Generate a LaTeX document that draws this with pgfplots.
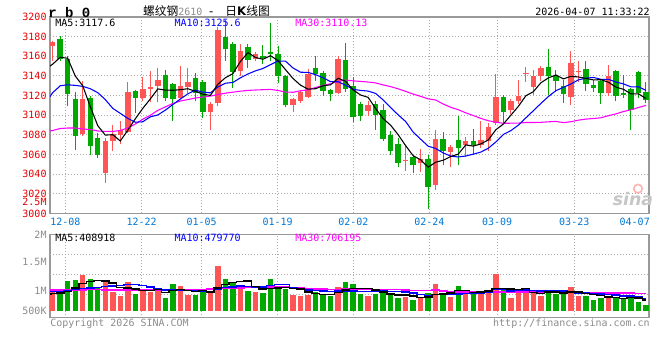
\documentclass[border=0pt]{standalone}
\usepackage{pgfplots}
\pgfplotsset{compat=1.18}
\usepackage{pgfplotstable}
\usepackage{fontspec}
\setmainfont{DejaVu Sans}
\setmonofont{DejaVu Sans Mono}
\newfontfamily\cjk{Noto Sans CJK SC}
\newfontfamily\lmono{Liberation Mono}
\definecolor{cred}{RGB}{255,85,85}
\definecolor{cgreen}{RGB}{0,168,0}
\definecolor{maB}{RGB}{0,0,255}
\definecolor{maM}{RGB}{255,0,255}
\definecolor{bord}{RGB}{153,153,153}
\definecolor{gridc}{RGB}{170,170,170}
\definecolor{ylab}{RGB}{230,0,0}
\definecolor{xlab}{RGB}{0,120,215}
\definecolor{glab}{RGB}{140,140,140}

\pgfplotstableread{
x o h l c
0 3170 3176 3155 3175
4 3081 3135 3079 3117
7 3041 3077 3031 3074
8 3074 3090 3064 3081
9 3080 3094 3071 3085
10 3083 3134 3082 3124
12 3118 3139 3115 3127
13 3127 3145 3113 3129
14 3130 3148 3113 3136
17 3118 3150 3117 3130
18 3129 3148 3123 3134
21 3103 3113 3085 3111
22 3112 3190 3109 3187
25 3145 3173 3140 3165
27 3157 3164 3155 3162
32 3110 3118 3103 3117
33 3115 3126 3112 3124
34 3119 3147 3118 3142
38 3123 3160 3122 3157
42 3104 3115 3099 3110
47 3053 3069 3043 3054
49 3051 3066 3042 3055
51 3029 3085 3024 3076
53 3063 3070 3047 3068
55 3070 3078 3057 3074
57 3070 3094 3067 3075
58 3074 3092 3064 3088
59 3092 3142 3090 3119
61 3105 3117 3101 3115
62 3114 3136 3111 3120
63 3142 3149 3134 3142.5
64 3129 3146 3121 3140
65 3140 3150 3135 3148
69 3119 3165 3110 3153
70 3144 3155 3134 3145
74 3123 3151 3120 3140
}\redc

\pgfplotstableread{
x o h l c
1 3178 3181 3155 3157
2 3157 3160 3109 3122
3 3117 3124 3065 3079
5 3118 3120 3060 3069
6 3077 3082 3056 3060
11 3125 3126 3102 3118
15 3141 3146 3114 3118
16 3132 3133 3094 3117
19 3138 3143 3114 3123
20 3134 3136 3097 3103
23 3180 3197 3155 3167
24 3173 3175 3128 3144
26 3169 3173 3148 3156
28 3160 3171 3152 3158
29 3164 3194 3155 3162
30 3162 3170 3133 3140
31 3140 3141 3108 3110
35 3148 3160 3135 3142
36 3143 3145 3120 3125
37 3126 3127 3114 3122
39 3156 3174 3124 3127
40 3130 3139 3093 3098
41 3111 3113 3094 3099
43 3111 3114 3085 3100
44 3105 3111 3074 3076
45 3080 3084 3060 3064
46 3071 3077 3047 3051
48 3058 3060 3041 3049
50 3055 3060 3005 3027
52 3076 3083 3049 3064
54 3075 3099 3049 3067
56 3074 3086 3060 3070
60 3119 3121 3092 3103
66 3149 3167 3121 3140
67 3140 3146 3124 3135
68 3130 3136 3112 3122
71 3147 3155 3125 3132
72 3131 3136 3124 3128
73 3135 3136 3111 3123
75 3145 3146 3115 3120
76 3121.5 3141 3118 3121
77 3127 3128 3085 3105
78 3144 3145 3118 3123
79 3124 3134 3112 3116
}\greenc

\pgfplotstableread{
x m5 m10 m30
-0.36 3150 3119 3083.9
0 3152 3123 3084.5
1 3159 3130 3086.5
2 3158 3131 3087
3 3140 3130.4 3087
4 3130.0 3129.4 3086
5 3108.8 3127 3085.5
6 3089.4 3123 3084
7 3079.8 3116 3083.5
8 3080.2 3107 3083.5
9 3073.8 3101.9 3084.5
10 3084.8 3096.8 3087
11 3096.4 3092.9 3091
12 3107.0 3093.4 3096
13 3116.6 3098.4 3100
14 3126.8 3100.3 3105
15 3125.6 3105.2 3108.5
16 3125.4 3110.9 3112
17 3126.0 3116.5 3114.5
18 3127.0 3121.8 3116
19 3124.4 3125.6 3117.5
20 3121.4 3123.5 3118.5
21 3120.2 3122.8 3119.5
22 3131.6 3128.8 3121
23 3138.2 3132.6 3122.5
24 3142.4 3133.4 3123.5
25 3154.8 3138.1 3124.5
26 3163.8 3142.0 3125.3
27 3158.8 3145.2 3125.7
28 3157.0 3147.6 3126
29 3160.6 3151.5 3126.3
30 3155.6 3155.2 3125.2
31 3146.4 3155.1 3123.6
32 3137.4 3148.1 3123.4
33 3130.6 3143.8 3124.9
34 3126.6 3143.6 3125.8
35 3127.0 3141.3 3128.2
36 3130.0 3138.2 3130.4
37 3131.0 3134.2 3132.0
38 3137.6 3134.1 3134.5
39 3134.6 3130.6 3135.9
40 3125.8 3126.4 3135.0
41 3120.6 3125.3 3134.4
42 3118.2 3124.6 3133.8
43 3106.8 3122.2 3132.9
44 3096.6 3115.6 3130.9
45 3089.8 3107.8 3129.1
46 3080.2 3100.4 3126.9
47 3069.0 3093.6 3124.3
48 3058.8 3082.8 3121.5
49 3054.6 3075.6 3119.2
50 3047.2 3068.5 3116.7
51 3052.2 3066.2 3115.5
52 3054.2 3061.6 3111.4
53 3058.0 3058.4 3108.1
54 3060.4 3057.5 3105.6
55 3069.8 3058.5 3102.5
56 3068.6 3060.4 3099.7
57 3070.8 3062.5 3096.8
58 3074.8 3066.4 3094.4
59 3085.2 3072.8 3093.0
60 3091.0 3080.4 3091.8
61 3100.0 3084.3 3091.9
62 3109.0 3089.9 3092.0
63 3119.8 3097.3 3092.6
64 3124.0 3104.6 3092.6
65 3133.0 3112.0 3092.8
66 3138.0 3119.0 3093.3
67 3141.0 3125.0 3093.7
68 3137.0 3128.4 3092.5
69 3139.6 3131.8 3093.4
70 3139.0 3136.0 3095.0
71 3137.4 3137.7 3096.1
72 3136.0 3138.5 3096.7
73 3136.2 3136.6 3097.4
74 3133.6 3136.6 3099.6
75 3128.6 3133.8 3101.4
76 3126.4 3131.9 3103.8
77 3121.8 3128.9 3105.5
78 3121.8 3129.0 3107.9
79 3117.0 3125.3 3110.0
}\mamain

\pgfplotstableread{
x v
0 995
4 1660
7 1349
8 884
9 698
10 1349
12 963
13 884
14 995
17 1149
18 730
21 856
22 2093
25 1088
27 884
32 730
33 698
34 730
38 1116
42 684
47 651
49 577
51 1242
53 651
55 916
57 916
58 809
59 1707
61 605
62 837
63 995
64 884
65 698
69 1088
70 698
74 684
}\redv

\pgfplotstableread{
x v
1 809
2 1395
3 1428
5 1474
6 1042
11 777
15 605
16 1242
19 730
20 884
23 1474
24 1302
26 930
28 837
29 1474
30 1149
31 1009
35 884
36 777
37 684
39 1335
40 1242
41 777
43 777
44 884
45 730
46 605
48 498
50 837
52 777
54 1149
56 763
60 963
66 963
67 777
68 777
71 684
72 498
73 605
75 577
76 530
77 730
78 391
79 265
}\greenv

\pgfplotstableread{
x v5 v10 v30
-0.36 780 885 960
0 790 890 962
1 830 900 965
2 900 930 968
3 1050 980 970
4 1257 1030 972
5 1353 1060 974
6 1400 1090 975
7 1391 1120 972
8 1282 1150 968
9 1089 1173 966
10 1064 1209 965
11 1011 1206 965
12 934 1162 966
13 934 1108 968
14 994 1042 970
15 845 955 972
16 938 975 975
17 975 955 978
18 944 939 980
19 891 942 985
20 947 896 990
21 870 904 1000
22 1059 1017 1012
23 1207 1076 1025
24 1322 1107 1040
25 1363 1155 1055
26 1377 1124 1068
27 1136 1097 1080
28 1008 1108 1090
29 1043 1182 1099
30 1055 1209 1105
31 1071 1224 1111
32 1040 1088 1089
33 1012 1010 1065
34 863 953 1034
35 810 933 1014
36 764 917 1005
37 755 897 983
38 838 925 991
39 959 911 1012
40 1031 921 1009
41 1031 897 1008
42 1031 893 999
43 963 901 996
44 873 916 992
45 770 901 996
46 736 883 975
47 729 880 958
48 674 818 950
49 612 743 945
50 634 702 944
51 761 749 957
52 786 758 913
53 817 745 885
54 931 772 880
55 947 790 875
56 851 806 869
57 879 833 870
58 911 864 869
59 1022 977 877
60 1032 989 871
61 1000 926 857
62 984 932 861
63 1021 966 871
64 857 940 876
65 804 918 870
66 875 938 876
67 863 924 879
68 820 921 868
69 861 859 860
70 861 832 841
71 805 840 838
72 749 806 832
73 715 767 826
74 634 747 820
75 610 735 814
76 579 692 812
77 625 687 815
78 582 649 811
79 499 566 801
}\mavol

\newcommand{\smallmono}{\fontsize{7.5}{8}\selectfont\ttfamily}

\begin{document}
\begin{tikzpicture}[x=1pt,y=1pt]
\useasboundingbox (0,0) rectangle (495,270);
\fill[white] (0,0) rectangle (495,270);

\pgfplotsset{
  kbase/.style={
    scale only axis, width=449.25pt,
    xmin=-0.36, xmax=79.4,
    axis line style={bord, line width=1.1pt},
    major tick length=0pt,
    xmajorgrids,
    grid style={gridc, dash pattern=on 0.75pt off 1.5pt, line width=0.75pt},
    xtick={1.68,11.85,19.84,29.96,40.03,50.15,59.17,69.45},
    yticklabel style={font=\smallmono, inner sep=0pt, xshift=-2.4pt},
    xticklabel style={font=\smallmono, text=xlab, inner sep=0pt, yshift=-3.4pt},
  },
  candle/.style 2 args={draw=none, no marks, error bars/.cd, y dir=plus, y explicit, error mark=none,
    error bar style={line width=#1, solid, draw=#2}, /pgfplots/.cd},
}

% ---------------- price panel ----------------
\begin{axis}[kbase,
  at={(37.5pt,109.875pt)}, anchor=south west, height=147.375pt,
  ymin=3000, ymax=3200,
  ytick={3000,3020,3040,3060,3080,3100,3120,3140,3160,3180,3200},
  yticklabels={3000,3020,3040,3060,3080,3100,3120,3140,3160,3180,3200},
  yticklabel style={text=ylab},
  ymajorgrids,
  xticklabels={12-08,12-22,01-05,01-19,02-02,02-24,03-09,03-23},
  extra x ticks={77.5}, extra x tick labels={04-07},
  extra x tick style={grid=none},
  extra y ticks={3011.5}, extra y tick labels={2.5M},
  extra y tick style={grid=none, tick label style={text=glab}},
]
% wicks
\addplot[candle={0.75pt}{cred}]
  table[x=x, y=l, y error plus expr={\thisrow{h}-\thisrow{l}}] {\redc};
\addplot[candle={0.75pt}{cgreen}]
  table[x=x, y=l, y error plus expr={\thisrow{h}-\thisrow{l}}] {\greenc};
% bodies
\addplot[candle={4.1pt}{cred}]
  table[x=x, y=o, y error plus expr={max(\thisrow{c}-\thisrow{o},1.2)}] {\redc};
\addplot[candle={4.1pt}{cgreen}]
  table[x=x, y=c, y error plus expr={max(\thisrow{o}-\thisrow{c},1.2)}] {\greenc};
% moving averages
\addplot[maM, line width=0.8pt, mark=none] table[x=x, y=m30] {\mamain};
\addplot[maB, line width=0.8pt, mark=none] table[x=x, y=m10] {\mamain};
\addplot[black, line width=0.8pt, mark=none] table[x=x, y=m5] {\mamain};
\end{axis}

% ---------------- volume panel ----------------
\begin{axis}[kbase,
  at={(37.5pt,31.725pt)}, anchor=south west, height=62.55pt,
  ymin=-326, ymax=3553,
  ytick={-14,916,2265,3550},
  yticklabels={500K,1M,1.5M,2M},
  yticklabel style={text=glab},
  xticklabels={},
  extra y ticks={730,1660,2591}, extra y tick labels={},
  extra y tick style={grid=major},
]
\addplot[ycomb, cred, line width=4.1pt, mark=none] table[x=x, y=v] {\redv};
\addplot[ycomb, cgreen, line width=4.1pt, mark=none] table[x=x, y=v] {\greenv};
\addplot[const plot mark mid, maM, line width=1.1pt, mark=none] table[x=x, y=v30] {\mavol};
\addplot[const plot mark mid, maB, line width=1.1pt, mark=none] table[x=x, y=v10] {\mavol};
\addplot[const plot mark mid, black, line width=1.1pt, mark=none] table[x=x, y=v5] {\mavol};
\end{axis}

% ---------------- texts ----------------
\node[anchor=west, inner sep=0pt, font=\lmono\bfseries\fontsize{10.5}{11}\selectfont] at (36,260.5) {r b 0};
\node[inner sep=0pt, font=\fontsize{8.8}{10}\selectfont] at (154.9,261.5)
  {{\cjk 螺纹钢}{\color{glab}\smallmono 2610}\hspace{5pt}-\hspace{9pt}{\cjk 日}\textbf{K}{\cjk 线图}};
\node[anchor=east, inner sep=0pt, font=\smallmono] at (487.5,261) {2026-04-07 11:33:22};

\node[anchor=west, inner sep=0pt, font=\smallmono, text=black] at (41.25,252.6) {MA5:3117.6};
\node[anchor=west, inner sep=0pt, font=\smallmono, text=maB] at (130.7,252.6) {MA10:3125.6};
\node[anchor=west, inner sep=0pt, font=\smallmono, text=maM] at (221.25,252.6) {MA30:3110.13};

\node[anchor=west, inner sep=0pt, font=\smallmono, text=black] at (41.25,91.7) {MA5:408918};
\node[anchor=west, inner sep=0pt, font=\smallmono, text=maB] at (130.7,91.7) {MA10:479770};
\node[anchor=west, inner sep=0pt, font=\smallmono, text=maM] at (221.25,91.7) {MA30:706195};

\node[anchor=west, inner sep=0pt, font=\smallmono, text=glab] at (37.5,27.5) {Copyright 2026 SINA.COM};
\node[anchor=east, inner sep=0pt, font=\smallmono, text=glab] at (487.5,27.5) {http://finance.sina.com.cn};

\draw[red!30, line width=1.2pt] (478.5,128.5) circle (3.2pt);
\node[inner sep=0pt, text=gray!45, font=\bfseries\itshape\fontsize{13}{13}\selectfont] at (474.75,120.5) {sina};
\end{tikzpicture}
\end{document}
